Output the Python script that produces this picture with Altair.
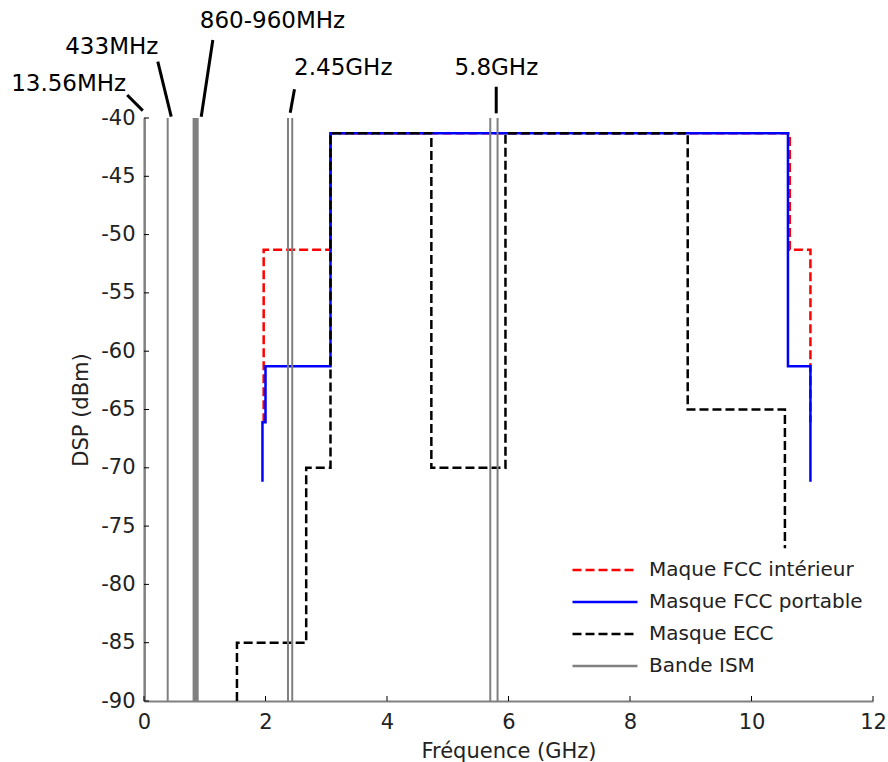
import altair as alt
import pandas as pd

FONT = "DejaVu Sans"

# ---- data ----
names = ["Maque FCC intérieur", "Masque FCC portable", "Masque ECC", "Bande ISM"]
colors = ["#ff0000", "#0000ff", "#000000", "#808080"]
dashes = [[9, 4], [1, 0], [9, 4], [1, 0]]

red_x = [1.97, 1.97, 3.07, 3.07, 10.63, 10.63, 10.97, 10.97]
red_y = [-66.1, -51.3, -51.3, -41.3, -41.3, -51.3, -51.3, -66.1]

blue_x = [1.95, 1.95, 2.0, 2.0, 3.07, 3.07, 10.6, 10.6, 10.97, 10.97]
blue_y = [-71.2, -66.1, -66.1, -61.3, -61.3, -41.3, -41.3, -61.3, -61.3, -71.2]

black_x = [1.53, 1.53, 2.67, 2.67, 3.07, 3.07, 4.73, 4.73, 5.95, 5.95, 8.95, 8.95, 10.55, 10.55]
black_y = [-90, -85, -85, -70, -70, -41.3, -41.3, -70, -70, -41.3, -41.3, -65, -65, -76.9]

ism_lines = [0.0136, 0.39, 2.37, 2.44, 5.70, 5.82]   # GHz, single ISM lines / band edges
ism_band = [0.80, 0.90]                              # 860-960 MHz band (filled)

x_ticks = [0, 2, 4, 6, 8, 10, 12]
y_ticks = [-90, -85, -80, -75, -70, -65, -60, -55, -50, -45, -40]

# annotations above the plot (GHz, dBm)
ann_labels = ["13.56MHz", "433MHz", "860-960MHz", "2.45GHz", "5.8GHz"]
ann_x = [-1.24, -0.53, 2.115, 3.28, 5.80]
ann_y = [-37.66, -34.51, -32.31, -36.31, -36.31]
lead_x1 = [-0.277, 0.227, 1.133, 2.477, 5.798]
lead_y1 = [-38.03, -35.17, -33.31, -37.54, -37.32]
lead_x2 = [-0.020, 0.448, 0.942, 2.407, 5.798]
lead_y2 = [-39.37, -39.89, -39.89, -39.55, -39.60]

# ---- tables ----
def mask_df(name, xs, ys):
    return pd.DataFrame({"s": name, "x": xs, "y": ys, "i": list(range(len(xs)))})

red_df = mask_df(names[0], red_x, red_y)
blue_df = mask_df(names[1], blue_x, blue_y)
black_df = mask_df(names[2], black_x, black_y)

ymin, ymax = y_ticks[0], y_ticks[-1]
ism_df = pd.DataFrame({"s": names[3], "x": ism_lines, "y": ymax, "y2": ymin})
band_df = pd.DataFrame({"x": [ism_band[0]], "x2": [ism_band[1]], "y": [ymax], "y2": [ymin]})
ann_df = pd.DataFrame({"t": ann_labels, "x": ann_x, "y": ann_y})
lead_df = pd.DataFrame({"x": lead_x1, "y": lead_y1, "x2": lead_x2, "y2": lead_y2})
xt_df = pd.DataFrame({"x": x_ticks})
yt_df = pd.DataFrame({"y": y_ticks})

W, H = 729, 583

xscale = alt.Scale(domain=[0, 12], nice=False, zero=False)
yscale = alt.Scale(domain=[ymin, ymax], nice=False, zero=False)

common_axis = dict(grid=False, ticks=False, tickSize=0, labelFlush=False,
                   labelExpr="'' + datum.value",
                   domainColor="#808080", domainWidth=2,
                   labelFont=FONT, labelFontSize=21, labelColor="#222222",
                   titleFont=FONT, titleFontSize=21, titleFontWeight="normal",
                   titleColor="#222222")
xaxis = alt.Axis(values=x_ticks, title="Fréquence (GHz)", labelPadding=10, titlePadding=8,
                 **common_axis)
yaxis = alt.Axis(values=y_ticks, title="DSP (dBm)", labelPadding=9, titlePadding=9,
                 **common_axis)

X = alt.X("x:Q", scale=xscale, axis=xaxis)
Y = alt.Y("y:Q", scale=yscale, axis=yaxis)

legend = alt.Legend(title=None, orient="none", legendX=427, legendY=442, symbolType="stroke",
                    symbolSize=4225, symbolStrokeWidth=2.5, clipHeight=20, rowPadding=12,
                    labelFont=FONT, labelFontSize=20, labelColor="#222222", labelOffset=10,
                    padding=0, labelLimit=400)
color = alt.Color("s:N", scale=alt.Scale(domain=names, range=colors), legend=legend)
dash = alt.StrokeDash("s:N", scale=alt.Scale(domain=names, range=dashes), legend=legend)


def mask_layer(df):
    return alt.Chart(df).mark_line(strokeWidth=2.5).encode(
        x=X, y=Y, color=color, strokeDash=dash, order="i:Q")


red_layer = mask_layer(red_df)
blue_layer = mask_layer(blue_df)
black_layer = mask_layer(black_df)

ism_layer = alt.Chart(ism_df).mark_rule(strokeWidth=2).encode(
    x=X, y=Y, y2="y2:Q", color=color, strokeDash=dash)

band_layer = alt.Chart(band_df).mark_rect(color="#808080").encode(
    x=X, x2="x2:Q", y=Y, y2="y2:Q")

ytick_layer = alt.Chart(yt_df).mark_rule(color="#000000", strokeWidth=1).encode(
    y=Y, x=alt.value(0), x2=alt.value(5))
xtick_layer = alt.Chart(xt_df).mark_rule(color="#000000", strokeWidth=1).encode(
    x=X, y=alt.value(H), y2=alt.value(H - 5))

lead_layer = alt.Chart(lead_df).mark_rule(color="#000000", strokeWidth=3).encode(
    x=X, y=Y, x2="x2:Q", y2="y2:Q")

ann_layer = alt.Chart(ann_df).mark_text(
    font=FONT, fontSize=23, color="#000000", align="center", baseline="alphabetic").encode(
    x=X, y=Y, text="t:N")

chart = alt.layer(
    red_layer, blue_layer, black_layer, ism_layer, band_layer,
    ytick_layer, xtick_layer, lead_layer, ann_layer
).properties(
    width=W, height=H,
    padding={"left": 144, "top": 118, "right": 15, "bottom": 61},
    autosize=alt.AutoSizeParams(type="none"),
    background="white",
).configure_view(stroke=None)

chart.save("out.html", embed_options={"renderer": "svg", "actions": False})
